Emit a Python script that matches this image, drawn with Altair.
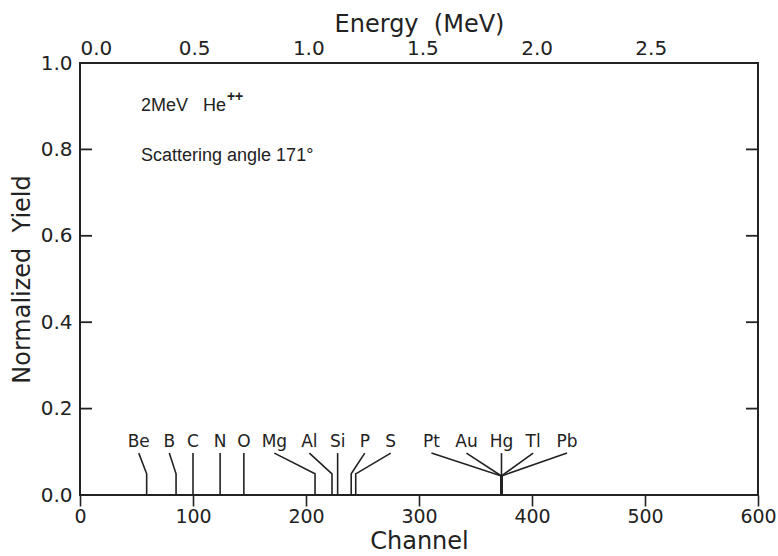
import altair as alt
import pandas as pd

# ---- data ----
elements = ["Be", "B", "C", "N", "O", "Mg", "Al", "Si", "P", "S",
            "Pt", "Au", "Hg", "Tl", "Pb"]
edge_channel = [59, 85, 100, 124, 145, 208, 223, 228, 240, 244,
                373, 373, 373, 373, 373]
label_channel = [52, 79, 100, 124, 145, 172, 203, 228, 252, 275,
                 311, 342, 373, 401, 431]
knee_yield = [0.049, 0.049, 0.097, 0.097, 0.097, 0.049, 0.049, 0.097, 0.049, 0.049,
              0.044, 0.044, 0.097, 0.044, 0.044]
leader_top = 0.097
label_yield = 0.123

heavy_trunk_channel = [373]
heavy_trunk_top = [0.044]

y_ticks = [0.0, 0.2, 0.4, 0.6, 0.8, 1.0]
inner_y_ticks = [0.2, 0.4, 0.6, 0.8]
x_ticks = [0, 100, 200, 300, 400, 500, 600]
energy_ticks = [0.0, 0.5, 1.0, 1.5, 2.0, 2.5]
channel_domain = [0, 600]
energy_domain = [0, 2.97]
yield_domain = [0, 1.0]

notes = ["2MeV\u00a0\u00a0 He", "Scattering angle 171\u00b0"]
note_channel = [54, 54]
note_yield = [0.90, 0.785]
sup_notes = ["++"]
sup_channel = [130]
sup_yield = [0.922]

# ---- tables ----
rows = []
for e, c, l, k in zip(elements, edge_channel, label_channel, knee_yield):
    rows.append({"el": e, "ord": 0, "channel": c, "yield": 0.0})
    rows.append({"el": e, "ord": 1, "channel": c, "yield": k})
    rows.append({"el": e, "ord": 2, "channel": l, "yield": leader_top})
leaders = pd.DataFrame(rows)
labels = pd.DataFrame({"el": elements, "channel": label_channel,
                       "yield": [label_yield] * len(elements)})
trunk = pd.DataFrame({"channel": heavy_trunk_channel, "y0": [0.0], "y1": heavy_trunk_top})
ticks_df = pd.DataFrame({"yield": inner_y_ticks})
notes_df = pd.DataFrame({"txt": notes, "channel": note_channel, "yield": note_yield})
sup_df = pd.DataFrame({"txt": sup_notes, "channel": sup_channel, "yield": sup_yield})
energy_df = pd.DataFrame({"energy": energy_domain})
baseline = pd.DataFrame({"channel": channel_domain, "yield": [0.0, 0.0]})

FONT = "DejaVu Sans"
NOTE_FONT = "Liberation Sans"
INK = "#222222"

xs = alt.Scale(domain=channel_domain, nice=False, zero=False)
ys = alt.Scale(domain=yield_domain, nice=False)

x_axis = alt.Axis(values=x_ticks, format="d", title="Channel", orient="bottom",
                  tickSize=11, tickWidth=1.6, tickColor=INK, domain=False,
                  labelFlush=False,
                  labelFontSize=19, labelFont=FONT, labelColor=INK, labelPadding=1,
                  titleFontSize=24, titleFont=FONT, titleColor=INK, titleFontWeight="normal",
                  titlePadding=3, grid=False)
y_axis = alt.Axis(values=y_ticks, format=".1f", title="Normalized\u00a0 Yield",
                  tickSize=0, domain=False, labelFontSize=20, labelFont=FONT,
                  labelColor=INK, labelPadding=8, labelFlush=False,
                  titleFontSize=24, titleFont=FONT,
                  titleColor=INK, titleFontWeight="normal", titlePadding=6, grid=False)

base_line = alt.Chart(baseline).mark_line(color=INK, strokeWidth=1.8).encode(
    x=alt.X("channel:Q", scale=xs, axis=x_axis),
    y=alt.Y("yield:Q", scale=ys, axis=y_axis),
)

lead = alt.Chart(leaders).mark_line(color=INK, strokeWidth=1.6).encode(
    x=alt.X("channel:Q", scale=xs),
    y=alt.Y("yield:Q", scale=ys),
    detail="el:N",
    order="ord:O",
)

trunk_rule = alt.Chart(trunk).mark_rule(color=INK, strokeWidth=3).encode(
    x=alt.X("channel:Q", scale=xs),
    y=alt.Y("y0:Q", scale=ys),
    y2="y1:Q",
)

lab_text = alt.Chart(labels).mark_text(font=FONT, fontSize=17, color=INK,
                                       baseline="middle", align="center").encode(
    x=alt.X("channel:Q", scale=xs),
    y=alt.Y("yield:Q", scale=ys),
    text="el:N",
)

note_text = alt.Chart(notes_df).mark_text(font=NOTE_FONT, fontSize=18, color=INK,
                                          baseline="middle", align="left").encode(
    x=alt.X("channel:Q", scale=xs),
    y=alt.Y("yield:Q", scale=ys),
    text="txt:N",
)

sup_text = alt.Chart(sup_df).mark_text(font=NOTE_FONT, fontSize=14, fontWeight="bold",
                                       color=INK, baseline="middle", align="left").encode(
    x=alt.X("channel:Q", scale=xs),
    y=alt.Y("yield:Q", scale=ys),
    text="txt:N",
)

left_ticks = alt.Chart(ticks_df).mark_rule(color=INK, strokeWidth=1.8).encode(
    x=alt.value(0), x2=alt.value(12),
    y=alt.Y("yield:Q", scale=ys),
)
right_ticks = alt.Chart(ticks_df).mark_rule(color=INK, strokeWidth=1.8).encode(
    x=alt.value(666), x2=alt.value(678),
    y=alt.Y("yield:Q", scale=ys),
)

main = alt.layer(base_line, lead, trunk_rule, lab_text, note_text, sup_text,
                 left_ticks, right_ticks)

energy_layer = alt.Chart(energy_df).mark_point(opacity=0).encode(
    x=alt.X("energy:Q",
            scale=alt.Scale(domain=energy_domain, nice=False, zero=False),
            axis=alt.Axis(orient="top", values=energy_ticks, format=".1f",
                          title="Energy\u00a0 (MeV)", tickSize=0, domain=False,
                          labelFontSize=20, labelFont=FONT, labelColor=INK,
                          labelPadding=5, labelFlush=True,
                          titleFontSize=24, titleFont=FONT, titleColor=INK,
                          titleFontWeight="normal", titlePadding=2, grid=False)),
)

chart = alt.layer(main, energy_layer).resolve_scale(x="independent").properties(
    width=678, height=432,
    autosize=alt.AutoSizeParams(type="none"),
    padding={"left": 80, "top": 63, "right": 20, "bottom": 61},
    background="white",
).configure_view(stroke=INK, strokeWidth=2)

chart.save("out.html", embed_options={"renderer": "svg", "actions": False})
